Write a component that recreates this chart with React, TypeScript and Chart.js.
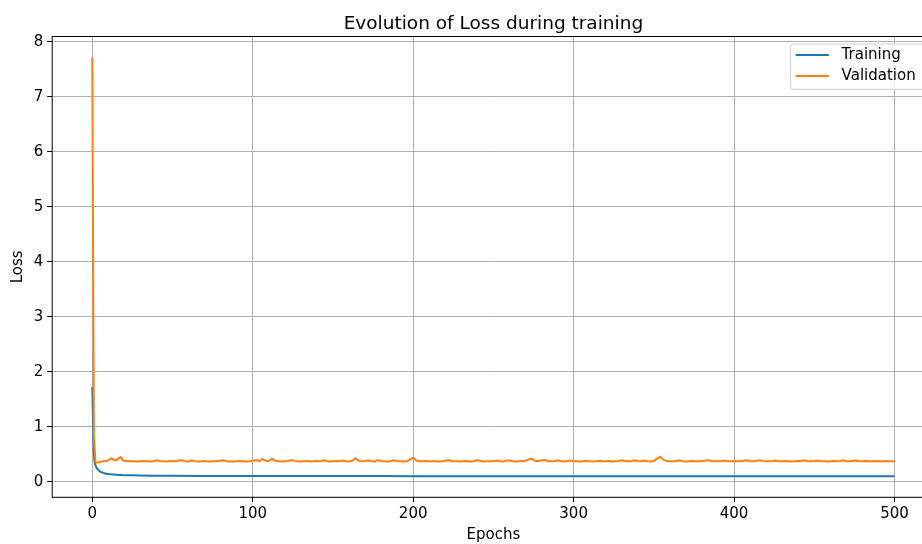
import React, { useEffect, useRef } from "react";
import { Chart, registerables } from "chart.js";

Chart.register(...registerables);

const FONT = "'DejaVu Sans', 'Liberation Sans', sans-serif";

const titleText = "Evolution of Loss during training";
const xTitle = "Epochs";
const yTitle = "Loss";
const seriesNames = ["Training", "Validation"];
const seriesColors = ["#1f77b4", "#ff7f0e"];

const xTicks = [0, 100, 200, 300, 400, 500];
const yTicks = [0, 1, 2, 3, 4, 5, 6, 7, 8];

// Training loss (smooth curve), sampled epochs
const trainEpochs = [0, 1, 2, 3, 4, 5, 6, 8, 10, 12, 15, 20, 25, 30, 40, 50, 70, 100, 150, 200, 250, 300, 350, 400, 450, 500];
const trainLoss = [1.72, 0.5, 0.3, 0.24, 0.205, 0.183, 0.168, 0.15, 0.14, 0.133, 0.126, 0.119, 0.115, 0.112, 0.109, 0.107, 0.105, 0.104, 0.102, 0.101, 0.1, 0.099, 0.099, 0.098, 0.098, 0.097];

// Validation loss, epochs 0..20 (every epoch)
const valEarly = [7.714, 0.82, 0.355, 0.345, 0.352, 0.36, 0.368, 0.372, 0.378, 0.382, 0.39, 0.405, 0.43, 0.4, 0.39, 0.395, 0.41, 0.435, 0.445, 0.39, 0.378];

// Validation loss, epochs 22..500 (every 2nd epoch)
const valLate = [
  0.375, 0.372, 0.37, 0.368, 0.372, 0.375, 0.37, 0.366, 0.372, 0.388, 0.378, 0.37, 0.365, 0.372, 0.376, 0.37, 0.385, 0.39, 0.372, 0.368,
  0.388, 0.372, 0.368, 0.37, 0.374, 0.368, 0.365, 0.37, 0.375, 0.382, 0.39, 0.372, 0.368, 0.366, 0.372, 0.375, 0.37, 0.368, 0.372, 0.38,
  0.392, 0.375, 0.415, 0.38, 0.372, 0.42, 0.378, 0.37, 0.368, 0.372, 0.375, 0.395, 0.378, 0.37, 0.366, 0.372, 0.375, 0.368, 0.372, 0.38,
  0.372, 0.39, 0.375, 0.368, 0.372, 0.376, 0.37, 0.385, 0.372, 0.368, 0.38, 0.425, 0.378, 0.372, 0.375, 0.39, 0.372, 0.368, 0.395, 0.375,
  0.37, 0.368, 0.372, 0.39, 0.375, 0.37, 0.366, 0.372, 0.4, 0.436, 0.385, 0.372, 0.37, 0.375, 0.368, 0.372, 0.37, 0.366, 0.372, 0.38,
  0.395, 0.375, 0.37, 0.372, 0.368, 0.375, 0.37, 0.366, 0.375, 0.395, 0.375, 0.368, 0.372, 0.37, 0.374, 0.385, 0.372, 0.368, 0.38, 0.388,
  0.372, 0.368, 0.37, 0.375, 0.38, 0.405, 0.42, 0.38, 0.372, 0.39, 0.4, 0.375, 0.37, 0.372, 0.388, 0.372, 0.368, 0.375, 0.385, 0.372,
  0.37, 0.368, 0.372, 0.375, 0.37, 0.366, 0.372, 0.38, 0.372, 0.37, 0.375, 0.368, 0.372, 0.375, 0.39, 0.375, 0.37, 0.372, 0.388, 0.375,
  0.372, 0.385, 0.37, 0.368, 0.375, 0.42, 0.452, 0.395, 0.378, 0.372, 0.37, 0.375, 0.388, 0.372, 0.368, 0.372, 0.375, 0.37, 0.372, 0.378,
  0.385, 0.39, 0.378, 0.372, 0.37, 0.375, 0.385, 0.372, 0.37, 0.375, 0.372, 0.376, 0.38, 0.388, 0.375, 0.372, 0.38, 0.39, 0.375, 0.37,
  0.372, 0.378, 0.386, 0.372, 0.37, 0.375, 0.372, 0.368, 0.372, 0.375, 0.378, 0.388, 0.372, 0.37, 0.375, 0.385, 0.372, 0.37, 0.368, 0.372,
  0.375, 0.372, 0.378, 0.388, 0.372, 0.37, 0.38, 0.386, 0.372, 0.37, 0.375, 0.372, 0.37, 0.374, 0.372, 0.368, 0.375, 0.372, 0.37, 0.372,
];

const X_MIN = -25;
const X_MAX = 525;
const Y_MIN = -0.284;
const Y_MAX = 8.095;

const CANVAS_W = 960;
const CANVAS_H = 544;
const TICK_SIZE = 15;
const TITLE_SIZE = 18.5;

const framePlugin = {
  id: "frameAndLegend",
  afterDatasetsDraw(chart: any) {
    const { ctx, chartArea: ca } = chart;
    ctx.save();
    ctx.strokeStyle = "#000";
    ctx.lineWidth = 1;
    ctx.strokeRect(ca.left, ca.top, ca.right - ca.left, ca.bottom - ca.top);
    ctx.restore();
  },
  afterDraw(chart: any) {
    const { ctx, chartArea: ca } = chart;
    const left = ca.right - 144;
    const right = ca.right - 6.7;
    const top = ca.top + 7.5;
    const bottom = ca.top + 52.8;
    ctx.save();
    const r = 3;
    ctx.beginPath();
    ctx.moveTo(left + r, top);
    ctx.lineTo(right - r, top);
    ctx.arcTo(right, top, right, top + r, r);
    ctx.lineTo(right, bottom - r);
    ctx.arcTo(right, bottom, right - r, bottom, r);
    ctx.lineTo(left + r, bottom);
    ctx.arcTo(left, bottom, left, bottom - r, r);
    ctx.lineTo(left, top + r);
    ctx.arcTo(left, top, left + r, top, r);
    ctx.closePath();
    ctx.fillStyle = "rgba(255,255,255,0.8)";
    ctx.fill();
    ctx.strokeStyle = "#d0d0d0";
    ctx.lineWidth = 1;
    ctx.stroke();
    chart.data.datasets.forEach((ds: any, i: number) => {
      const y = top + 11 + i * 21;
      ctx.beginPath();
      ctx.strokeStyle = ds.borderColor;
      ctx.lineWidth = 2;
      ctx.moveTo(left + 5, y);
      ctx.lineTo(left + 38.3, y);
      ctx.stroke();
      ctx.fillStyle = "#000";
      ctx.font = `${TICK_SIZE}px ${FONT}`;
      ctx.textBaseline = "middle";
      ctx.textAlign = "left";
      ctx.fillText(ds.label, left + 51, y + 0.5);
    });
    ctx.restore();
  },
};

export default function App() {
  const ref = useRef<HTMLCanvasElement>(null);

  useEffect(() => {
    const trainPoints = trainEpochs.map((e, i) => ({ x: e, y: trainLoss[i] }));
    const valPoints = [
      ...valEarly.map((v, i) => ({ x: i, y: v })),
      ...valLate.map((v, i) => ({ x: 22 + i * 2, y: v })),
    ];

    const chart = new Chart(ref.current!, {
      type: "line",
      data: {
        datasets: [
          {
            label: seriesNames[0],
            data: trainPoints,
            borderColor: seriesColors[0],
            backgroundColor: seriesColors[0],
            borderWidth: 2,
            pointRadius: 0,
            cubicInterpolationMode: "monotone",
            order: 1,
          },
          {
            label: seriesNames[1],
            data: valPoints,
            borderColor: seriesColors[1],
            backgroundColor: seriesColors[1],
            borderWidth: 2,
            pointRadius: 0,
            tension: 0,
            order: 0,
          },
        ],
      },
      options: {
        animation: false,
        responsive: false,
        devicePixelRatio: 1,
        layout: { padding: { left: 0, right: CANVAS_W - 934.6, top: 0, bottom: 0 } },
        plugins: {
          legend: { display: false },
          tooltip: { enabled: false },
          title: {
            display: true,
            text: titleText,
            color: "#000",
            font: { family: FONT, size: TITLE_SIZE, weight: "normal", lineHeight: 1.2 },
            padding: { top: 12.9, bottom: 1.4 },
            fullSize: false,
          },
        },
        scales: {
          x: {
            type: "linear",
            min: X_MIN,
            max: X_MAX,
            afterBuildTicks: (axis: any) => {
              axis.ticks = xTicks.map((v) => ({ value: v }));
            },
            afterFit: (s: any) => {
              s.height = CANVAS_H - 497.3;
            },
            ticks: {
              color: "#000",
              font: { family: FONT, size: TICK_SIZE },
              padding: 2.7,
              maxRotation: 0,
              autoSkip: false,
            },
            grid: {
              color: "#b0b0b0",
              lineWidth: 1,
              tickColor: "#000",
              tickLength: 5,
              drawTicks: true,
            },
            border: { display: false },
            title: {
              display: true,
              text: xTitle,
              color: "#000",
              font: { family: FONT, size: TICK_SIZE },
              padding: { top: 0, bottom: 0.2 },
            },
          },
          y: {
            type: "linear",
            min: Y_MIN,
            max: Y_MAX,
            afterBuildTicks: (axis: any) => {
              axis.ticks = yTicks.map((v) => ({ value: v }));
            },
            afterFit: (s: any) => {
              s.width = 52.2;
            },
            ticks: {
              color: "#000",
              font: { family: FONT, size: TICK_SIZE },
              padding: 4,
              autoSkip: false,
            },
            grid: {
              color: "#b0b0b0",
              lineWidth: 1,
              tickColor: "#000",
              tickLength: 5,
              drawTicks: true,
            },
            border: { display: false },
            title: {
              display: true,
              text: yTitle,
              color: "#000",
              font: { family: FONT, size: TICK_SIZE },
              padding: { top: 9, bottom: 0 },
            },
          },
        },
      },
      plugins: [framePlugin],
    } as any);

    return () => chart.destroy();
  }, []);

  return (
    <div
      style={{
        position: "fixed",
        left: 0,
        top: 0,
        width: 922,
        height: 544,
        overflow: "hidden",
        background: "#fff",
      }}
    >
      <canvas ref={ref} width={CANVAS_W} height={CANVAS_H} style={{ display: "block" }} />
    </div>
  );
}
